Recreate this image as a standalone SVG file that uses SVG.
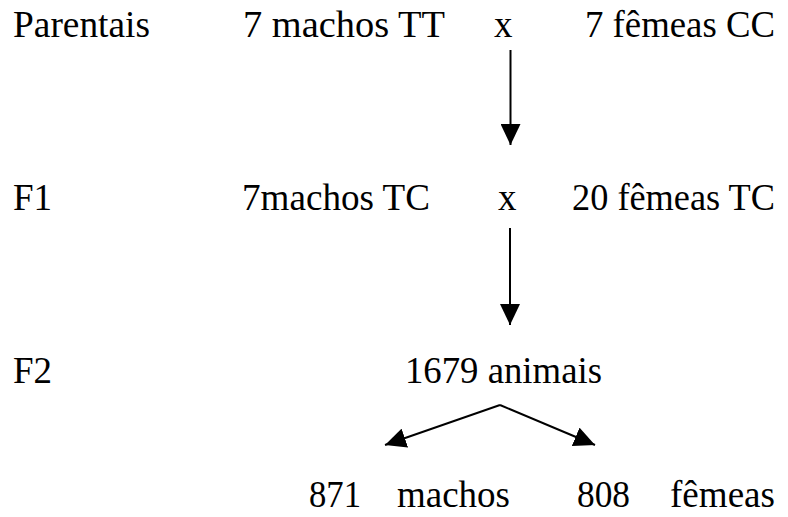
<svg xmlns="http://www.w3.org/2000/svg" width="788" height="517" viewBox="0 0 788 517">
<defs>
<style>
text{font-family:'Liberation Serif','Times New Roman','DejaVu Serif',serif;font-size:37px;fill:#000}
.c{stroke:#000;stroke-width:2;fill:none}
</style>
<marker id="ah" viewBox="0 0 21 20" refX="21" refY="10" markerWidth="21" markerHeight="20" markerUnits="userSpaceOnUse" orient="auto">
<path d="M0,0 L21,10 L0,20 z" fill="#000"/>
</marker>
</defs>
<rect width="788" height="517" fill="#fff"/>
<g id="lbl-parentais"><text x="13" y="37" textLength="137" lengthAdjust="spacingAndGlyphs">Parentais</text></g>
<g id="p-machos"><text x="243" y="37" textLength="202" lengthAdjust="spacingAndGlyphs">7 machos TT</text></g>
<g id="p-x"><text x="494" y="37">x</text></g>
<g id="p-femeas"><text x="585" y="37" textLength="190" lengthAdjust="spacingAndGlyphs">7 fêmeas CC</text></g>
<g id="lbl-f1"><text x="13" y="210">F1</text></g>
<g id="f1-machos"><text x="242" y="210" textLength="188" lengthAdjust="spacingAndGlyphs">7machos TC</text></g>
<g id="f1-x"><text x="498" y="210">x</text></g>
<g id="f1-femeas"><text x="572" y="210" textLength="203" lengthAdjust="spacingAndGlyphs">20 fêmeas TC</text></g>
<g id="lbl-f2"><text x="13" y="383">F2</text></g>
<g id="f2-total"><text x="405" y="383" textLength="197" lengthAdjust="spacingAndGlyphs">1679 animais</text></g>
<g id="f2-machos"><text x="309" y="507" textLength="52" lengthAdjust="spacingAndGlyphs">871</text><text x="397" y="507" textLength="113" lengthAdjust="spacingAndGlyphs">machos</text></g>
<g id="f2-femeas"><text x="577" y="507" textLength="53" lengthAdjust="spacingAndGlyphs">808</text><text x="670" y="507" textLength="105" lengthAdjust="spacingAndGlyphs">fêmeas</text></g>
<g id="connectors">
<line class="c" x1="510.5" y1="50" x2="510.5" y2="145" marker-end="url(#ah)"/>
<line class="c" x1="510" y1="228" x2="510" y2="325" marker-end="url(#ah)"/>
<line class="c" x1="500" y1="405" x2="385" y2="445" marker-end="url(#ah)"/>
<line class="c" x1="500" y1="405" x2="595" y2="445" marker-end="url(#ah)"/>
</g>
</svg>
